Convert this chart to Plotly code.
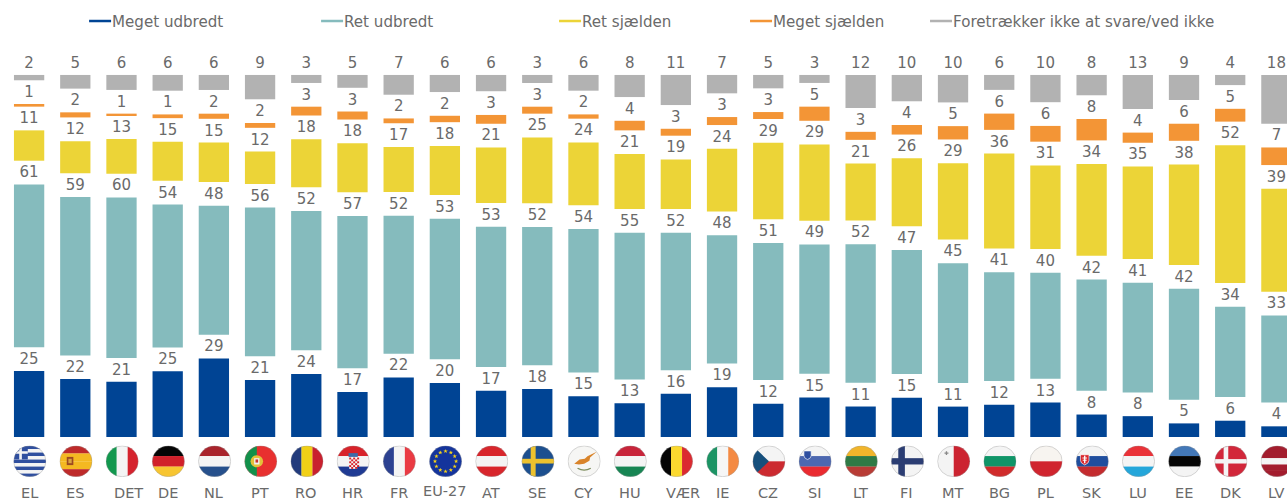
import base64, math
import plotly.graph_objects as go

codes = ["EL","ES","DET","DE","NL","PT","RO","HR","FR","EU-27","AT","SE","CY","HU","VÆR","IE","CZ","SI","LT","FI","MT","BG","PL","SK","LU","EE","DK","LV"]
meget_udbredt = [24.8,21.6,20.7,24.6,29.3,21.3,23.6,16.8,22.3,20.2,17.3,17.9,15.3,12.7,16.2,18.7,12.4,14.8,11.4,14.8,11.4,12.1,12.9,8.4,7.8,5.1,6.1,4.0]
ret_udbredt = [61.2,59.1,60.0,53.6,48.1,55.6,52.0,57.0,51.6,52.6,52.6,51.7,53.8,55.1,51.6,48.1,51.2,48.6,51.8,46.6,44.9,40.8,39.7,41.6,41.1,41.6,33.8,32.7]
ret_sjaelden = [11.4,12.0,13.0,14.6,14.7,12.1,18.0,18.3,16.9,18.4,20.8,24.6,23.6,20.6,18.6,23.6,28.6,28.6,21.3,25.6,28.6,35.6,31.3,34.3,34.6,37.7,51.6,38.6]
meget_sjaelden = [1.0,1.9,0.6,1.4,1.9,1.8,3.3,3.0,1.8,2.4,3.3,2.6,1.6,3.6,2.6,3.0,2.6,5.3,3.0,3.6,5.0,6.1,5.9,8.0,3.8,6.4,4.8,6.6]
ved_ikke = [2.0,5.1,5.6,5.9,5.6,9.1,3.0,4.8,7.4,6.4,6.1,3.0,5.9,8.3,11.3,6.9,5.0,3.0,12.4,9.9,10.3,5.6,10.2,7.6,12.7,9.4,3.8,18.3]

series_names = ["Meget udbredt","Ret udbredt","Ret sjælden","Meget sjælden","Foretrækker ikke at svare/ved ikke"]
series_values = [meget_udbredt, ret_udbredt, ret_sjaelden, meget_sjaelden, ved_ikke]
series_colors = ["#004494","#85BBBD","#ECD437","#F39536","#B2B2B2"]

# ---- layout constants (pixels) ----
W, H = 1287, 502
BASE_PX = 436.7
UNIT_PX = 2.67
STEP = 46.2
LEFT = 29 - STEP / 2
GAP = 23.7 / UNIT_PX
TXT = "#6A6A6A"
FONT = "DejaVu Sans"
label_shift = {"DET": 7, "VÆR": 7}
label_y = {"EU-27": 491}
legend_x = [(89, 111), (321, 343), (559, 581), (750, 772), (930, 952)]

# ---- flags ----
def h(*c):
    n = len(c)
    return "".join(f'<rect x="0" y="{i*100/n}" width="100" height="{100/n+.5}" fill="{k}"/>' for i, k in enumerate(c))
def v(*c):
    n = len(c)
    return "".join(f'<rect y="0" x="{i*100/n}" height="100" width="{100/n+.5}" fill="{k}"/>' for i, k in enumerate(c))
def r(x, y, w, hh, c):
    return f'<rect x="{x}" y="{y}" width="{w}" height="{hh}" fill="{c}"/>'
def star(cx, cy, R, c):
    pts = []
    for i in range(10):
        a = -math.pi/2 + i*math.pi/5
        q = R if i % 2 == 0 else R*0.4
        pts.append(f"{cx+q*math.cos(a):.2f},{cy+q*math.sin(a):.2f}")
    return f'<polygon points="{" ".join(pts)}" fill="{c}"/>'

def shield(cx, cy, s, fill, extra=""):
    return (f'<path d="M{cx-s} {cy-s}H{cx+s}V{cy+s*0.4}Q{cx+s} {cy+s*1.1} {cx} {cy+s*1.5}Q{cx-s} {cy+s*1.1} {cx-s} {cy+s*0.4}Z" '
            f'fill="{fill}" stroke="#fff" stroke-width="2"/>' + extra)

greek = h(*["#2F4F9F" if i % 2 == 0 else "#F4F4F4" for i in range(9)]) + r(0,0,44,44,"#2F4F9F") + r(18,0,8,44,"#F4F4F4") + r(0,18,44,8,"#F4F4F4")
spain = h("#BE2A2A","#F4B921","#F4B921","#BE2A2A") + r(22,36,20,26,"#9C4A22") + r(27,42,10,14,"#D9A441")
port = r(0,0,100,100,"#E8302F") + r(0,0,38,100,"#12904A") + '<circle cx="38" cy="50" r="19" fill="#E3C23A"/>' + r(30,40,16,20,"#F2F2F2") + r(34,44,8,10,"#C8332E")
croat_check = "".join(r(38+i*6, 38+j*6, 6, 6, "#D8232A") for i in range(5) for j in range(6) if (i+j) % 2 == 0)
croat = h("#D8232A","#F4F4F4","#1F3A93") + r(36,24,28,12,"#3C6CA8") + r(38,38,24,36,"#F4F4F4") + croat_check
eu = r(0,0,100,100,"#14349C") + "".join(star(50+32*math.cos(i*math.pi/6), 50+32*math.sin(i*math.pi/6), 7, "#F7D417") for i in range(12))
sweden = r(0,0,100,100,"#1C4F8F") + r(28,0,15,100,"#EDC22E") + r(0,42,100,15,"#EDC22E")
cyprus = (r(0,0,100,100,"#F6F6F4") + '<path d="M20 58L36 44L52 42L60 34L88 20L68 38L66 48L50 58L34 60Z" fill="#D9842A"/>'
          + '<path d="M30 72Q50 84 70 72" stroke="#7F8F60" stroke-width="4" fill="none"/>')
czech = h("#F4F4F4","#CC2A30") + '<polygon points="0,0 50,50 0,100" fill="#164F7C"/>'
slov = h("#F4F4F4","#4D68B0","#EA2A30") + shield(27,28,11,"#2F4FA0")
lith = h("#F1B52B","#2F7A45","#B83C35")
finland = r(0,0,100,100,"#F4F4F4") + r(22,0,20,100,"#2B3D73") + r(0,40,100,20,"#2B3D73")
malta = v("#F4F4F4","#CC2330") + r(22,22,12,4,"#888") + r(26,18,4,12,"#888")
slovak = h("#F4F4F4","#1F4E9E","#C42B2E") + shield(27,42,13,"#D9282E", r(25,32,4,24,"#fff")+r(20,38,14,3,"#fff")+r(21,45,12,3,"#fff"))
denmark = r(0,0,100,100,"#D2273A") + r(28,0,14,100,"#F4F4F4") + r(0,43,100,14,"#F4F4F4")

flags = {
 "EL": greek, "ES": spain, "DET": v("#12984E","#F4F4F4","#D5232E"), "DE": h("#050505","#D1202A","#F7C531"),
 "NL": h("#A9242C","#F4F4F4","#26508C"), "PT": port, "RO": v("#223B7C","#F1D016","#C9202E"), "HR": croat,
 "FR": v("#2C4191","#F4F4F4","#EA3A43"), "EU-27": eu, "AT": h("#D8262C","#F4F4F4","#D8262C"), "SE": sweden,
 "CY": cyprus, "HU": h("#C8243A","#F4F4F4","#178553"), "VÆR": v("#050505","#FBD92F","#DB2A30"),
 "IE": v("#1B9464","#F6F6F6","#F48A43"), "CZ": czech, "SI": slov, "LT": lith, "FI": finland, "MT": malta,
 "BG": h("#F4F4F4","#0F9568","#D02B2B"), "PL": h("#F7F4F0","#D0242E"), "SK": slovak,
 "LU": h("#EA3238","#F4F4F4","#24A6DA"), "EE": h("#4378B8","#050505","#F4F4F4"), "DK": denmark,
 "LV": h("#A31D2E","#A31D2E","#F4F4F4","#A31D2E","#A31D2E"),
}

def flag_uri(body):
    svg = ('<svg xmlns="http://www.w3.org/2000/svg" width="132" height="126" viewBox="0 0 100 100" preserveAspectRatio="none">'
           '<defs><clipPath id="c"><circle cx="50" cy="50" r="49"/></clipPath></defs>'
           f'<g clip-path="url(#c)">{body}</g>'
           '<circle cx="50" cy="50" r="49" fill="none" stroke="#9A9A9A" stroke-width="1.2"/></svg>')
    return "data:image/svg+xml;base64," + base64.b64encode(svg.encode()).decode()

# ---- bars: each column is scaled to 100 so that all tops line up ----
totals = [sum(col) for col in zip(*series_values)]
fig = go.Figure()
offset = [0.0] * len(codes)
for name, vals, col in zip(series_names, series_values, series_colors):
    shares = [x / t * 100 for x, t in zip(vals, totals)]
    fig.add_trace(go.Bar(
        name=name, x=codes, y=shares, base=offset, width=30.3 / STEP,
        marker=dict(color=col, line=dict(width=0)),
        text=[str(round(x)) for x in vals], textposition="outside", textangle=0,
        constraintext="none", cliponaxis=False,
        textfont=dict(family=FONT, size=15, color=TXT), showlegend=False,
    ))
    offset = [o + s + GAP for o, s in zip(offset, shares)]

plot_h = BASE_PX
images, annotations, shapes = [], [], []
for i, c in enumerate(codes):
    images.append(dict(source=flag_uri(flags[c]), xref="x", yref="paper", x=i + 0.015,
                       y=(plot_h - 461) / plot_h, sizex=33 / STEP, sizey=31.5 / plot_h,
                       xanchor="center", yanchor="middle", sizing="stretch", layer="above"))
    annotations.append(dict(text=c, xref="x", yref="paper", x=i, xshift=label_shift.get(c, 0),
                            y=(plot_h - label_y.get(c, 493)) / plot_h, yanchor="middle", xanchor="center",
                            showarrow=False, font=dict(family=FONT, size=14.5, color=TXT)))

for name, col, (x0, x1) in zip(series_names, series_colors, legend_x):
    shapes.append(dict(type="line", xref="paper", yref="paper",
                       x0=(x0 - LEFT) / (W - LEFT), x1=(x1 - LEFT) / (W - LEFT),
                       y0=(plot_h - 21) / plot_h, y1=(plot_h - 21) / plot_h,
                       line=dict(color=col, width=2.5)))
    annotations.append(dict(text=name, xref="paper", yref="paper",
                            x=(x1 - 1 - LEFT) / (W - LEFT), y=(plot_h - 21.5) / plot_h,
                            xanchor="left", yanchor="middle", showarrow=False,
                            font=dict(family=FONT, size=15.1, color=TXT)))

fig.update_layout(
    width=W, height=H, autosize=False, barmode="overlay", showlegend=False,
    margin=dict(l=LEFT, r=0, t=0, b=H - BASE_PX, pad=0),
    paper_bgcolor="white", plot_bgcolor="white",
    xaxis=dict(type="category", range=[-0.5, (W - LEFT) / STEP - 0.5], showticklabels=False,
               showgrid=False, zeroline=False, ticks="", showline=False, categoryorder="array", categoryarray=codes),
    yaxis=dict(range=[0, BASE_PX / UNIT_PX], visible=False),
    images=images, annotations=annotations, shapes=shapes,
)
fig.write_html("out.html", config={"displayModeBar": False},
               post_script="document.body.style.margin='0';document.body.style.overflow='hidden';")
